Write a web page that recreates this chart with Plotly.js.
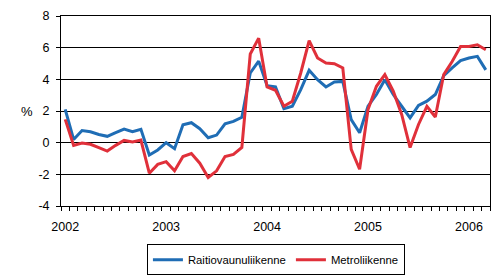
<!DOCTYPE html>
<html>
<head>
<meta charset="utf-8">
<script src="https://cdn.plot.ly/plotly-3.0.1.min.js"></script>
<style>html,body{margin:0;padding:0;background:#fff;}#chart{width:495px;height:279px;}</style>
</head>
<body>
<div id="chart"></div>
<script>
// Months Jan 2002 .. Mar 2006 (index 0..50)
const monthIndex = Array.from({length: 51}, (_, i) => i);
const yearTickPos = [0, 12, 24, 36, 48];
const yearLabels = ["2002", "2003", "2004", "2005", "2006"];
const yTickVals = [-4, -2, 0, 2, 4, 6, 8];
const yTickText = ["-4", "-2", "0", "2", "4", "6", "8"];

const raitiovaunu = [
  2.1, 0.2, 0.77, 0.69, 0.52, 0.4, 0.63, 0.86, 0.69, 0.84, -0.78, -0.46,
  0.0, -0.38, 1.13, 1.26, 0.88, 0.31, 0.48, 1.19, 1.34, 1.6, 4.4, 5.15,
  3.6, 3.52, 2.14, 2.3, 3.35, 4.57, 3.98, 3.52, 3.83, 3.87, 1.46, 0.63,
  2.3, 3.04, 3.98, 3.04, 2.3, 1.57, 2.35, 2.62, 3.04, 4.23, 4.72, 5.18,
  5.35, 5.45, 4.6
];
const metro = [
  1.47, -0.17, -0.02, -0.1, -0.32, -0.53, -0.17, 0.14, 0.04, 0.16, -1.93, -1.37,
  -1.2, -1.78, -0.88, -0.69, -1.3, -2.2, -1.78, -0.88, -0.74, -0.3, 5.6, 6.6,
  3.52, 3.31, 2.3, 2.62, 4.4, 6.45, 5.35, 5.03, 4.99, 4.72, -0.42, -1.68,
  2.1, 3.56, 4.3, 3.25, 1.78, -0.31, 1.15, 2.3, 1.62, 4.3, 5.13, 6.08,
  6.08, 6.18, 5.87
];

const traces = [
  {x: monthIndex, y: raitiovaunu, name: "Raitiovaunuliikenne", type: "scatter", mode: "lines",
   line: {color: "#1F6DB5", width: 3}},
  {x: monthIndex, y: metro, name: "Metroliikenne", type: "scatter", mode: "lines",
   line: {color: "#E0303A", width: 3}}
];

const layout = {
  width: 495, height: 279,
  margin: {l: 61, r: 5, t: 16, b: 72},
  paper_bgcolor: "#ffffff", plot_bgcolor: "#ffffff",
  font: {family: "Liberation Sans, Arial, sans-serif", size: 12, color: "#000"},
  showlegend: true,
  legend: {orientation: "h", x: 0.501, xanchor: "center", y: -0.276, yanchor: "middle",
           bordercolor: "#000", borderwidth: 1, font: {size: 11.3}, traceorder: "normal"},
  xaxis: {range: [-0.5, 50.5], tickmode: "array", tickvals: yearTickPos, ticktext: yearLabels,
          ticks: "", showgrid: false, zeroline: false, showline: true, linecolor: "#000", linewidth: 1,
          mirror: true, ticklabelstandoff: 9, tickfont: {size: 12.5},
          minor: {tickmode: "linear", tick0: -0.5, dtick: 1, ticks: "outside", ticklen: 4,
                  tickcolor: "#000", tickwidth: 1, showgrid: false}},
  yaxis: {range: [-4, 8], tickmode: "array", tickvals: yTickVals, ticktext: yTickText,
          ticks: "outside", ticklen: 4, tickcolor: "#000", showgrid: true, gridcolor: "#000",
          gridwidth: 1, zeroline: true, zerolinecolor: "#000", zerolinewidth: 1,
          showline: true, linecolor: "#000", linewidth: 1, mirror: true, fixedrange: true,
          ticklabelstandoff: 4, tickfont: {size: 12.5}},
  annotations: [
    {text: "%", xref: "paper", yref: "y", x: -0.061, y: 2, xanchor: "right", yanchor: "middle",
     showarrow: false, font: {size: 13}}
  ]
};

Plotly.newPlot("chart", traces, layout, {staticPlot: true, displayModeBar: false});
</script>
</body>
</html>
